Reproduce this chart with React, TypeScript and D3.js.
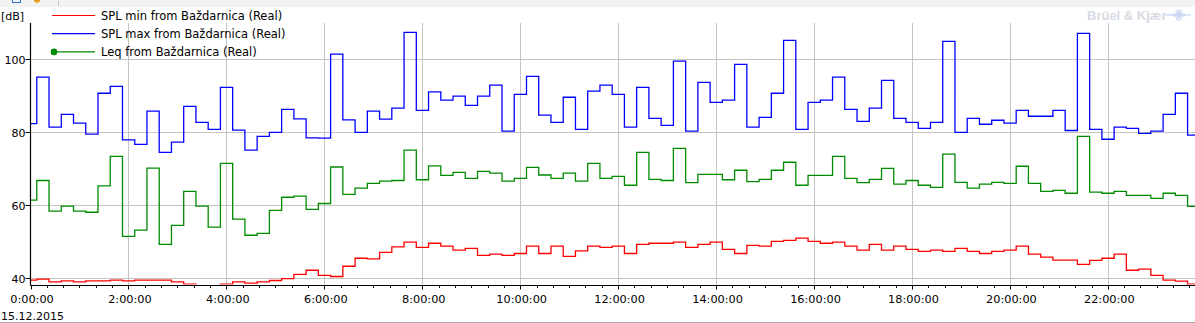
import React, { useEffect, useRef } from 'react';
import * as d3 from 'd3';

// 15-minute logger intervals, the first one is cut short (logging started at 0:07:40)
const firstBoundaryMin = 7.7;
const intervalMin = 15;

const splMax = [
  82.4, 95.1, 81.4, 84.9, 82.5, 79.5, 90.7, 92.6, 77.9, 76.7, 85.8, 74.5,
  77.3, 87.1, 82.7, 80.8, 92.3, 80.6, 75.1, 78.9, 80.0, 86.3, 83.7, 78.5,
  78.4, 101.4, 83.4, 80.0, 85.8, 83.6, 86.6, 107.4, 86.0, 91.1, 88.8, 89.9,
  87.4, 89.9, 92.9, 80.3, 90.4, 95.3, 84.7, 82.7, 89.6, 80.8, 91.3, 92.9,
  90.4, 81.4, 92.3, 83.8, 81.9, 99.5, 80.3, 93.7, 88.2, 88.8, 98.6, 81.4,
  84.1, 90.7, 105.2, 80.8, 88.2, 88.8, 95.1, 86.3, 83.0, 86.6, 94.2, 83.8,
  82.7, 81.1, 82.7, 104.9, 80.0, 83.8, 82.2, 83.3, 82.5, 86.0, 84.4, 84.4,
  86.0, 80.5, 107.1, 80.8, 78.1, 81.4, 81.1, 79.7, 80.3, 84.9, 90.7, 79.2
];

const leq = [
  61.4, 66.8, 58.4, 59.8, 58.4, 58.1, 65.3, 73.4, 51.5, 53.2, 70.2, 49.3,
  54.5, 63.8, 59.8, 54.0, 71.5, 56.2, 51.8, 52.3, 58.6, 62.2, 62.5, 58.9,
  60.5, 70.5, 63.0, 64.7, 66.0, 66.6, 66.8, 75.1, 67.0, 70.8, 68.2, 69.0,
  67.4, 69.3, 68.8, 66.6, 67.4, 70.4, 68.3, 67.4, 68.8, 66.6, 71.5, 67.4,
  67.9, 65.5, 74.5, 67.1, 66.8, 75.6, 66.2, 68.5, 68.5, 67.0, 69.6, 66.5,
  67.1, 69.6, 71.8, 65.5, 68.2, 68.2, 73.4, 67.4, 66.2, 67.1, 70.1, 65.8,
  66.8, 65.5, 64.9, 74.0, 66.3, 64.7, 65.8, 66.3, 66.0, 70.7, 66.0, 63.8,
  64.1, 63.3, 78.9, 63.6, 63.3, 63.8, 62.7, 62.7, 61.9, 63.3, 62.7, 59.7
];

const splMin = [
  39.5, 39.8, 39.0, 39.3, 39.0, 39.3, 39.3, 39.5, 39.3, 39.5, 39.5, 39.5,
  39.0, 38.4, 37.9, 37.9, 38.4, 39.0, 38.7, 39.0, 39.4, 39.9, 41.1, 42.2,
  40.8, 40.5, 43.3, 45.5, 45.3, 47.1, 48.6, 49.9, 48.5, 49.6, 48.8, 47.7,
  48.2, 46.3, 46.6, 46.3, 46.8, 48.8, 46.8, 48.8, 46.0, 47.5, 48.8, 48.5,
  48.8, 46.8, 49.3, 49.6, 49.6, 49.9, 48.5, 49.3, 49.9, 47.9, 46.8, 49.0,
  48.8, 50.1, 50.4, 51.0, 50.1, 49.6, 49.9, 48.8, 47.7, 49.3, 47.7, 48.8,
  47.9, 47.4, 47.7, 47.4, 48.2, 47.4, 46.8, 47.4, 47.7, 48.8, 46.6, 45.8,
  45.0, 45.0, 43.8, 44.9, 45.5, 46.6, 42.2, 42.5, 40.8, 39.5, 39.2, 38.4
];

const yTicks = [40, 60, 80, 100];
const xTickHours = [0, 2, 4, 6, 8, 10, 12, 14, 16, 18, 20, 22];
const dateLabel = '15.12.2015';

const series = [
  { name: 'SPL min from Baždarnica (Real)', values: splMin, color: '#ff0000', marker: false },
  { name: 'SPL max from Baždarnica (Real)', values: splMax, color: '#0000ff', marker: false },
  { name: 'Leq from Baždarnica (Real)', values: leq, color: '#008a00', marker: true }
];

const W = 1195;
const H = 323;
const FONT = '"DejaVu Sans", Verdana, sans-serif';

const App: React.FC = () => {
  const svgRef = useRef<SVGSVGElement>(null);

  useEffect(() => {
    if (!svgRef.current) return;
    const svg = d3.select(svgRef.current);
    svg.selectAll('*').remove();

    const left = 30.5, right = W, top = 23, bottom = 285.5;
    const pxPerMin = 48.97 / 60;
    const endMin = (right - left) / pxPerMin;

    const x = d3.scaleLinear().domain([0, endMin]).range([left, right]);
    const y = d3.scaleLinear().domain([40, 100]).range([278.3, 59.3]);

    // toolbar strip at the very top
    svg.append('rect').attr('x', 0).attr('y', 0).attr('width', W).attr('height', 7).attr('fill', '#f2f2f2');
    svg.append('rect').attr('x', 12.5).attr('y', -5).attr('width', 8).attr('height', 7.5)
      .attr('fill', 'none').attr('stroke', '#2f6fd0').attr('stroke-width', 1);
    svg.append('circle').attr('cx', 37).attr('cy', -0.5).attr('r', 3.2).attr('fill', '#e8a020');
    svg.append('line').attr('x1', 58.5).attr('x2', 58.5).attr('y1', 0).attr('y2', 6)
      .attr('stroke', '#c8c8c8');

    // logo
    svg.append('text').attr('x', 1087).attr('y', 19.5)
      .attr('font-family', '"Liberation Sans", Arial, sans-serif').attr('font-weight', 'bold')
      .attr('font-size', '13px').attr('fill', '#d6dae2').text('Brüel & Kjær');
    const logo = svg.append('g').attr('stroke', '#c6d6f0').attr('stroke-width', 1.2);
    logo.append('ellipse').attr('cx', 1179).attr('cy', 15).attr('rx', 7).attr('ry', 3)
      .attr('fill', '#dde7f7').attr('stroke', 'none');
    logo.append('line').attr('x1', 1166).attr('x2', 1191).attr('y1', 15).attr('y2', 15);
    [60, 90, 120].forEach(a => {
      const r = 6, cx = 1179, cy = 15;
      const dx = Math.cos((a * Math.PI) / 180) * r, dy = Math.sin((a * Math.PI) / 180) * r;
      logo.append('line').attr('x1', cx - dx).attr('x2', cx + dx).attr('y1', cy - dy).attr('y2', cy + dy);
    });

    // grid
    const grid = svg.append('g').attr('stroke', '#c4c4c4').attr('stroke-width', 1);
    yTicks.forEach(t => {
      grid.append('line').attr('x1', left).attr('x2', right)
        .attr('y1', Math.round(y(t)) + 0.5).attr('y2', Math.round(y(t)) + 0.5);
    });
    xTickHours.filter(h => h > 0).forEach(h => {
      const px = Math.round(x(h * 60)) + 0.5;
      grid.append('line').attr('x1', px).attr('x2', px).attr('y1', top).attr('y2', bottom);
    });

    // step lines
    svg.append('clipPath').attr('id', 'plot-clip').append('rect')
      .attr('x', left).attr('y', top).attr('width', right - left).attr('height', bottom - top - 1);

    const times = splMin.map((_, i) => (i === 0 ? 0 : firstBoundaryMin + intervalMin * (i - 1)));
    const line = d3.line<[number, number]>()
      .x(d => x(d[0]))
      .y(d => y(d[1]))
      .curve(d3.curveStepAfter);

    series.forEach(s => {
      const pts: [number, number][] = s.values.map((v, i) => [times[i], v]);
      pts.push([endMin, s.values[s.values.length - 1]]);
      svg.append('path')
        .datum(pts)
        .attr('clip-path', 'url(#plot-clip)')
        .attr('fill', 'none')
        .attr('stroke', s.color)
        .attr('stroke-width', 1.3)
        .attr('d', line);
    });

    // y axis
    const yAxis = svg.append('g');
    yAxis.append('line').attr('x1', left).attr('x2', left).attr('y1', top).attr('y2', bottom)
      .attr('stroke', '#000').attr('stroke-width', 1.2);
    yTicks.forEach(t => {
      const py = Math.round(y(t)) + 0.5;
      yAxis.append('line').attr('x1', left - 5).attr('x2', left).attr('y1', py).attr('y2', py)
        .attr('stroke', '#000');
      yAxis.append('text').attr('x', 25.5).attr('y', py + 4)
        .attr('text-anchor', 'end').attr('font-family', FONT).attr('font-size', '11px')
        .attr('fill', '#000').text(String(t));
    });
    svg.append('text').attr('x', 1).attr('y', 20).attr('font-family', FONT).attr('font-size', '11px')
      .attr('fill', '#000').text('[dB]');

    // x axis
    const xAxis = svg.append('g');
    xAxis.append('line').attr('x1', left).attr('x2', right).attr('y1', bottom).attr('y2', bottom)
      .attr('stroke', '#000').attr('stroke-width', 1.2);
    d3.range(0, endMin, 20).forEach(m => {
      const px = Math.round(x(m)) + 0.5;
      const major = m % 120 === 0;
      xAxis.append('line').attr('x1', px).attr('x2', px)
        .attr('y1', bottom).attr('y2', bottom + (major ? 4 : 2.5)).attr('stroke', '#000');
    });
    xTickHours.forEach(h => {
      xAxis.append('text').attr('x', x(h * 60) + 1.5).attr('y', 302.5)
        .attr('text-anchor', 'middle').attr('font-family', FONT).attr('font-size', '11.3px')
        .attr('fill', '#000').text(`${h}:00:00`);
    });
    svg.append('text').attr('x', 1).attr('y', 320).attr('font-family', FONT).attr('font-size', '11px')
      .attr('fill', '#000').text(dateLabel);

    // bottom frame line
    svg.append('line').attr('x1', 0).attr('x2', W).attr('y1', 322.5).attr('y2', 322.5)
      .attr('stroke', '#a8a8a8');

    // legend
    const legend = svg.append('g');
    series.forEach((s, i) => {
      const ly = 15.5 + i * 18.2;
      legend.append('line').attr('x1', 52).attr('x2', 95).attr('y1', ly).attr('y2', ly)
        .attr('stroke', s.color).attr('stroke-width', 1.2);
      if (s.marker) {
        legend.append('circle').attr('cx', 54).attr('cy', ly).attr('r', 3.3).attr('fill', s.color);
      }
      legend.append('text').attr('x', 101).attr('y', ly + 4.5)
        .attr('font-family', FONT).attr('font-size', '11.5px').attr('fill', '#000').text(s.name);
    });
  }, []);

  return (
    <>
      <style>{`body{margin:0;background:#fff;}`}</style>
      <svg ref={svgRef} width={W} height={H} style={{ display: 'block' }} />
    </>
  );
};

export default App;
